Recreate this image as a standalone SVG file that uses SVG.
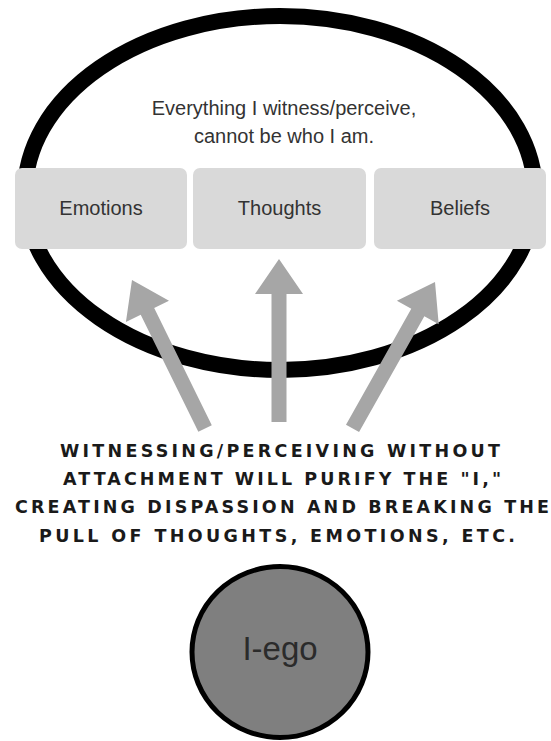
<svg xmlns="http://www.w3.org/2000/svg" width="551" height="741" viewBox="0 0 551 741">
<style>
.box{fill:#d9d9d9}
.lbl{font-family:"Liberation Sans",Arial,sans-serif;font-size:20px;fill:#333;text-anchor:middle}
.arrow{fill:#a6a6a6}
.caps{font-family:"DejaVu Sans","Liberation Sans",sans-serif;font-size:17.5px;font-weight:bold;fill:#1a1a1a}
</style>
<rect width="551" height="741" fill="#ffffff"/>
<g id="container">
<ellipse cx="280" cy="193" rx="255" ry="177" fill="none" stroke="#000" stroke-width="16"/>
<text class="lbl" x="284" y="115">Everything I witness/perceive,</text>
<text class="lbl" x="284" y="143">cannot be who I am.</text>
</g>
<g id="connectors">
<polygon class="arrow" points="0,0 24,35 7.5,35 7.5,163 -7.5,163 -7.5,35 -24,35" transform="translate(279,259)"/>
<polygon class="arrow" points="0,0 24,35 7.5,35 7.5,165.5 -7.5,165.5 -7.5,35 -24,35" transform="translate(132,280) rotate(-26.2)"/>
<polygon class="arrow" points="0,0 24,35 7.5,35 7.5,168 -7.5,168 -7.5,35 -24,35" transform="translate(435,282) rotate(29.4)"/>
</g>
<g id="emotions">
<rect class="box" x="15" y="168" width="172" height="81" rx="7"/>
<text class="lbl" x="101" y="215">Emotions</text>
</g>
<g id="thoughts">
<rect class="box" x="193" y="168" width="173" height="81" rx="7"/>
<text class="lbl" x="279.5" y="215">Thoughts</text>
</g>
<g id="beliefs">
<rect class="box" x="374" y="168" width="172" height="81" rx="7"/>
<text class="lbl" x="460" y="215">Beliefs</text>
</g>
<g id="caption">
<text class="caps" x="60" y="457" textLength="440" lengthAdjust="spacing">WITNESSING/PERCEIVING WITHOUT</text>
<text class="caps" x="63" y="485" textLength="438" lengthAdjust="spacing">ATTACHMENT WILL PURIFY THE "I,"</text>
<text class="caps" x="15" y="513" textLength="534" lengthAdjust="spacing">CREATING DISPASSION AND BREAKING THE</text>
<text class="caps" x="39" y="541.5" textLength="476" lengthAdjust="spacing">PULL OF THOUGHTS, EMOTIONS, ETC.</text>
</g>
<g id="i-ego">
<ellipse cx="280" cy="652" rx="88" ry="85.5" fill="#7f7f7f" stroke="#000" stroke-width="5"/>
<text x="280" y="660" font-family="Liberation Sans, Arial, sans-serif" font-size="33" fill="#2b2b2b" text-anchor="middle">I-ego</text>
</g>
</svg>
